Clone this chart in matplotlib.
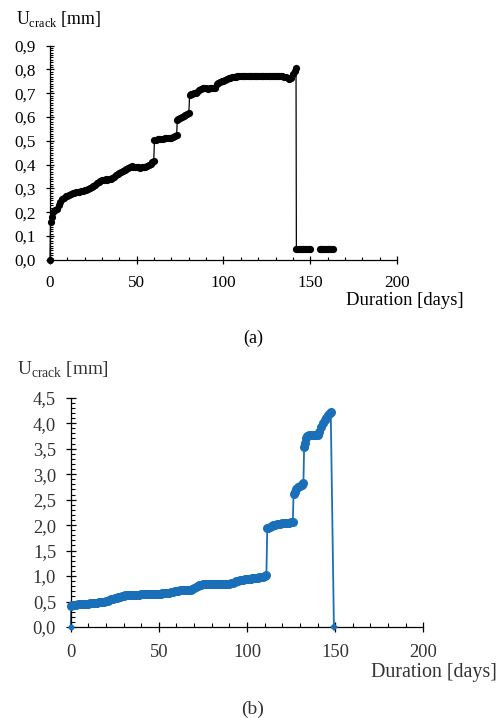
import numpy as np
import matplotlib
matplotlib.use("Agg")
import matplotlib.pyplot as plt
from matplotlib.ticker import MultipleLocator, FuncFormatter

plt.rcParams['font.family'] = ['Liberation Serif', 'DejaVu Serif']
plt.rcParams['mathtext.fontset'] = 'custom'
plt.rcParams['mathtext.rm'] = 'Liberation Serif'

# %% data (a) - black series
days_a = [0, 0.3, 1, 2, 3, 4, 5, 6, 7, 8, 9, 10, 11, 12, 13, 14, 15, 16, 17, 18, 19,
          20, 21, 22, 23, 24, 25, 26, 27, 28, 29, 30, 31, 32, 33, 34, 35, 36, 37, 38, 39,
          40, 41, 42, 43, 44, 45, 46, 47, 48, 49, 50, 51, 52, 53, 54, 55, 56, 57, 58, 59,
          59.8, 60.2, 61, 62, 63, 64, 65, 66, 67, 68, 69, 70, 71, 72, 73,
          73.4, 74, 75, 76, 77, 78, 79, 80,
          80.5, 81, 82, 83, 84, 85, 86, 87, 88, 89, 90, 91, 92, 93, 94, 95,
          96, 97, 98, 99, 100, 101, 102, 103, 104, 105, 106, 107, 108, 109, 110,
          111, 112, 113, 114, 115, 116, 117, 118, 119, 120, 121, 122, 123, 124, 125,
          126, 127, 128, 129, 130, 131, 132, 133, 134, 135, 136, 137, 138, 139, 140, 141, 141.8,
          142, 143, 144, 145, 146, 147, 148, 149, 150, 152,
          155.5, 156, 157, 158, 159, 160, 161, 162, 163]
u_a = [0.0, 0.16, 0.18, 0.20, 0.21, 0.215, 0.23, 0.245, 0.255, 0.262, 0.267, 0.27, 0.274,
       0.277, 0.28, 0.282, 0.284, 0.286, 0.287, 0.289, 0.291,
       0.293, 0.295, 0.297, 0.30, 0.305, 0.31, 0.316, 0.322, 0.328, 0.333, 0.336, 0.337,
       0.338, 0.337, 0.338, 0.340, 0.345, 0.35, 0.355, 0.36,
       0.364, 0.368, 0.373, 0.378, 0.383, 0.387, 0.391, 0.393, 0.392, 0.391, 0.390, 0.389,
       0.388, 0.389, 0.39, 0.392, 0.394, 0.397, 0.402, 0.41,
       0.415, 0.503, 0.505, 0.507, 0.508, 0.508, 0.509, 0.510, 0.510, 0.511, 0.512, 0.512,
       0.518, 0.522, 0.525,
       0.589, 0.592, 0.596, 0.60, 0.604, 0.608, 0.612, 0.616,
       0.693, 0.695, 0.697, 0.70, 0.703, 0.707, 0.712, 0.718, 0.72, 0.721, 0.72, 0.719,
       0.72, 0.721, 0.72, 0.72,
       0.74, 0.743, 0.747, 0.75, 0.753, 0.756, 0.76, 0.763, 0.766, 0.768, 0.77, 0.770,
       0.771, 0.772, 0.771,
       0.772, 0.773, 0.772, 0.771, 0.772, 0.773, 0.772, 0.771, 0.772, 0.773, 0.774,
       0.772, 0.771, 0.772, 0.773,
       0.772, 0.771, 0.772, 0.773, 0.772, 0.771, 0.772, 0.773, 0.772, 0.770, 0.768,
       0.762, 0.758, 0.765, 0.78, 0.795, 0.805,
       0.045, 0.045, 0.045, 0.045, 0.045, 0.045, 0.045, 0.045, 0.045, np.nan,
       0.045, 0.045, 0.045, 0.045, 0.045, 0.045, 0.045, 0.045, 0.045]

# %% data (b) - blue series
days_b = [0, 0.3, 1, 2, 3, 4, 5, 6, 7, 8, 9, 10, 11, 12, 13, 14, 15, 16, 17, 18, 19,
          20, 21, 22, 23, 24, 25, 26, 27, 28, 29, 30, 31, 32, 33, 34, 35, 36, 37, 38, 39,
          40, 41, 42, 43, 44, 45, 46, 47, 48, 49, 50, 51, 52, 53, 54, 55, 56, 57, 58, 59,
          60, 61, 62, 63, 64, 65, 66, 67, 68, 69, 70, 71, 72, 73, 74, 75, 76, 77, 78, 79,
          80, 81, 82, 83, 84, 85, 86, 87, 88, 89, 90, 91, 92, 93, 94, 95, 96, 97, 98, 99,
          100, 101, 102, 103, 104, 105, 106, 107, 108, 109, 110, 111,
          111.5, 112, 113, 114, 115, 116, 117, 118, 119, 120, 121, 122, 123, 124, 125, 126,
          126.4, 127, 128, 129, 130, 131, 132,
          132.4, 133, 133.5, 134, 135, 136, 137, 138, 139, 140, 141, 142, 143, 144, 145,
          146, 147, 147.5, 149.3]
u_b = [0.0, 0.41, 0.43, 0.435, 0.44, 0.445, 0.45, 0.45, 0.455, 0.455, 0.46, 0.46, 0.465,
       0.47, 0.47, 0.475, 0.48, 0.485, 0.49, 0.495, 0.50,
       0.51, 0.52, 0.53, 0.545, 0.555, 0.565, 0.575, 0.585, 0.595, 0.605, 0.615, 0.625,
       0.63, 0.63, 0.632, 0.633, 0.635, 0.636, 0.637, 0.638,
       0.64, 0.641, 0.642, 0.643, 0.644, 0.645, 0.646, 0.647, 0.648, 0.649, 0.65, 0.655,
       0.658, 0.66, 0.662, 0.665, 0.67, 0.68, 0.69, 0.70,
       0.71, 0.715, 0.72, 0.722, 0.724, 0.726, 0.728, 0.73, 0.732, 0.74, 0.76, 0.79,
       0.81, 0.82, 0.83, 0.84, 0.842, 0.843, 0.844, 0.845,
       0.845, 0.846, 0.846, 0.847, 0.847, 0.848, 0.848, 0.849, 0.85, 0.85, 0.852, 0.855,
       0.86, 0.88, 0.90, 0.91, 0.92, 0.925, 0.93, 0.935,
       0.94, 0.945, 0.95, 0.955, 0.96, 0.965, 0.97, 0.975, 0.98, 0.99, 1.00, 1.03,
       1.94, 1.95, 1.96, 1.98, 2.00, 2.01, 2.02, 2.025, 2.03, 2.035, 2.04, 2.04, 2.045,
       2.05, 2.06, 2.07,
       2.62, 2.65, 2.70, 2.74, 2.77, 2.79, 2.82,
       3.54, 3.62, 3.70, 3.74, 3.76, 3.77, 3.77, 3.76, 3.76, 3.77, 3.82, 3.92, 4.0, 4.06,
       4.11, 4.16, 4.20, 4.22, 0.0]

ticks_x = [0, 50, 100, 150, 200]


def comma_fmt(v, pos):
    return ("%.1f" % v).replace(".", ",")


def style_axis(ax, ymax, ymajor, yminor, fs, tick_color, major_len, minor_len, xpad):
    ax.spines['top'].set_visible(False)
    ax.spines['right'].set_visible(False)
    for s in ['left', 'bottom']:
        ax.spines[s].set_linewidth(0.9)
    ax.set_xlim(0, 200)
    ax.set_ylim(0, ymax)
    ax.set_xticks(ticks_x)
    ax.xaxis.set_minor_locator(MultipleLocator(10))
    ax.yaxis.set_major_locator(MultipleLocator(ymajor))
    ax.yaxis.set_minor_locator(MultipleLocator(yminor))
    ax.yaxis.set_major_formatter(FuncFormatter(comma_fmt))
    ax.tick_params(which='major', direction='inout', length=major_len, width=0.9,
                   labelsize=fs, labelcolor=tick_color)
    ax.tick_params(which='minor', direction='in', length=minor_len, width=0.8)
    ax.tick_params(axis='y', which='major', pad=7)
    ax.tick_params(axis='x', which='major', pad=xpad)


fig = plt.figure(figsize=(5.0, 7.18), dpi=100)

# (a)
ax1 = fig.add_axes([0.100, 0.638, 0.694, 0.2985])
ax1.plot(days_a, u_a, color='black', lw=0.9, marker='o', ms=5.2, mew=0,
         clip_on=False, zorder=3)
style_axis(ax1, 0.9, 0.1, 0.01, 12.3, 'black', 6, 2.2, 8)
fig.text(0.031, 0.973, r'U$_{\rm crack}$ [mm]', fontsize=12.8, ha='left', va='center')
fig.text(0.927, 0.582, 'Duration [days]', fontsize=13.4, ha='right', va='center')
fig.text(0.506, 0.529, '(a)', fontsize=13, ha='center', va='center')

# (b)
blue = '#1a6fb9'
grey = '#333333'
ax2 = fig.add_axes([0.1414, 0.1267, 0.7052, 0.3194])
ax2.plot(days_b, u_b, color=blue, lw=1.3, clip_on=False, zorder=2)
ax2.plot(days_b[1:-1], u_b[1:-1], color=blue, lw=0, marker='o', ms=6.5, mew=0,
         clip_on=False, zorder=3)
ax2.plot(days_b[0], u_b[0], color=blue, marker='o', ms=4.2, mew=0, clip_on=False, zorder=4)
ax2.plot(days_b[-1], u_b[-1], color=blue, marker='D', ms=3.8, mew=0, clip_on=False, zorder=4)
style_axis(ax2, 4.5, 0.5, 0.1, 13.3, grey, 7, 3.2, 9)
fig.text(0.034, 0.485, r'U$_{\rm crack}$ [mm]', fontsize=13.9, ha='left', va='center', color=grey)
fig.text(0.994, 0.063, 'Duration [days]', fontsize=14.4, ha='right', va='center', color=grey)
fig.text(0.506, 0.012, '(b)', fontsize=14, ha='center', va='center', color=grey)

fig.savefig("out.png", dpi=100)
